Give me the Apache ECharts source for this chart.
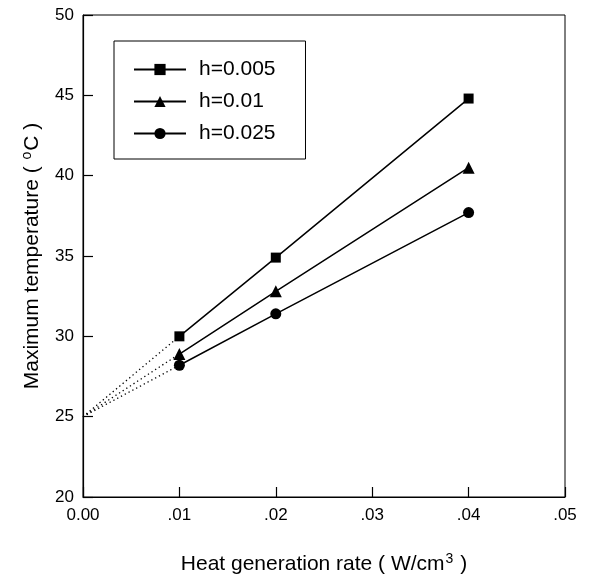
<!DOCTYPE html>
<html>
<head>
<meta charset="utf-8">
<title>Maximum temperature</title>
<script src="https://cdn.jsdelivr.net/npm/echarts@6/dist/echarts.min.js"></script>
<style>
  html, body { margin: 0; padding: 0; background: #fff; }
  #main { width: 591px; height: 580px; }
</style>
</head>
<body>
<div id="main"></div>
<script>
// data
var xValues = [0.01, 0.02, 0.04];
var seriesNames = ['h=0.005', 'h=0.01', 'h=0.025'];
var h005 = [30.0, 34.9, 44.8];
var h01 = [28.9, 32.8, 40.5];
var h025 = [28.2, 31.4, 37.7];
var startPoint = [0, 25];   // dotted extrapolation start
var markers = ['rect', 'triangle', 'circle'];
var markerSizes = [10, 12, 11];
var xTicks = [0, 0.01, 0.02, 0.03, 0.04, 0.05];
var yTicks = [20, 25, 30, 35, 40, 45, 50];

var allData = [h005, h01, h025];
var font = 'Arial, "Liberation Sans", sans-serif';

var chart = echarts.init(document.getElementById('main'));

var series = [];
allData.forEach(function (vals, i) {
  // solid line with markers
  series.push({
    name: seriesNames[i],
    type: 'line',
    data: xValues.map(function (x, j) { return [x, vals[j]]; }),
    symbol: markers[i],
    symbolSize: markerSizes[i],
    lineStyle: { color: '#000', width: 1.5 },
    itemStyle: { color: '#000' },
    z: 3
  });
  // dotted line back to the origin value
  series.push({
    name: seriesNames[i] + '_dot',
    type: 'line',
    data: [startPoint, [xValues[0], vals[0]]],
    symbol: 'none',
    lineStyle: { color: '#000', width: 1.3, type: [1.3, 3] },
    z: 2
  });
});

var titleRich = {
  n: { fontFamily: font, fontSize: 21, color: '#000', verticalAlign: 'bottom' },
  s: { fontFamily: font, fontSize: 14, color: '#000', verticalAlign: 'bottom', padding: [0, 1, 9, 1] }
};

var option = {
  animation: false,
  backgroundColor: '#fff',
  grid: {
    left: 83, right: 26, top: 15, bottom: 83,
    show: true, borderColor: '#000', borderWidth: 1
  },
  legend: {
    data: seriesNames,
    orient: 'vertical',
    left: 114, top: 41,
    padding: [18, 30, 15, 19],
    borderColor: '#000', borderWidth: 1,
    itemWidth: 52, itemHeight: 14,
    itemGap: 11,
    textStyle: { fontFamily: font, fontSize: 21, color: '#000', padding: [0, 0, 0, 8] }
  },
  xAxis: {
    type: 'value',
    min: 0, max: 0.05, interval: 0.01,
    axisLine: { show: true, lineStyle: { color: '#000', width: 1.2 } },
    axisTick: { show: true, inside: true, length: 10, lineStyle: { color: '#000', width: 1.2 } },
    splitLine: { show: false },
    axisLabel: {
      color: '#000', fontFamily: font, fontSize: 17, margin: 10,
      formatter: function (v) {
        if (v === 0) return '0.00';
        return xTicks.indexOf(v) >= 0 ? v.toFixed(2).replace(/^0/, '') : '';
      }
    },
    name: '{n|Heat generation rate ( W/cm}{s|3}{n| )}',
    nameLocation: 'middle',
    nameGap: 55,
    nameTextStyle: { rich: titleRich }
  },
  yAxis: {
    type: 'value',
    min: 20, max: 50, interval: 5,
    axisLine: { show: true, lineStyle: { color: '#000', width: 1.2 } },
    axisTick: { show: true, inside: true, length: 10, lineStyle: { color: '#000', width: 1.2 } },
    splitLine: { show: false },
    axisLabel: {
      color: '#000', fontFamily: font, fontSize: 17, margin: 9,
      formatter: function (v) { return yTicks.indexOf(v) >= 0 ? String(v) : ''; }
    },
    name: '{n|Maximum temperature ( }{s|o}{n|C )}',
    nameLocation: 'middle',
    nameRotate: 90,
    nameGap: 40,
    nameTextStyle: { rich: titleRich }
  },
  series: series
};

chart.setOption(option);
</script>
</body>
</html>
